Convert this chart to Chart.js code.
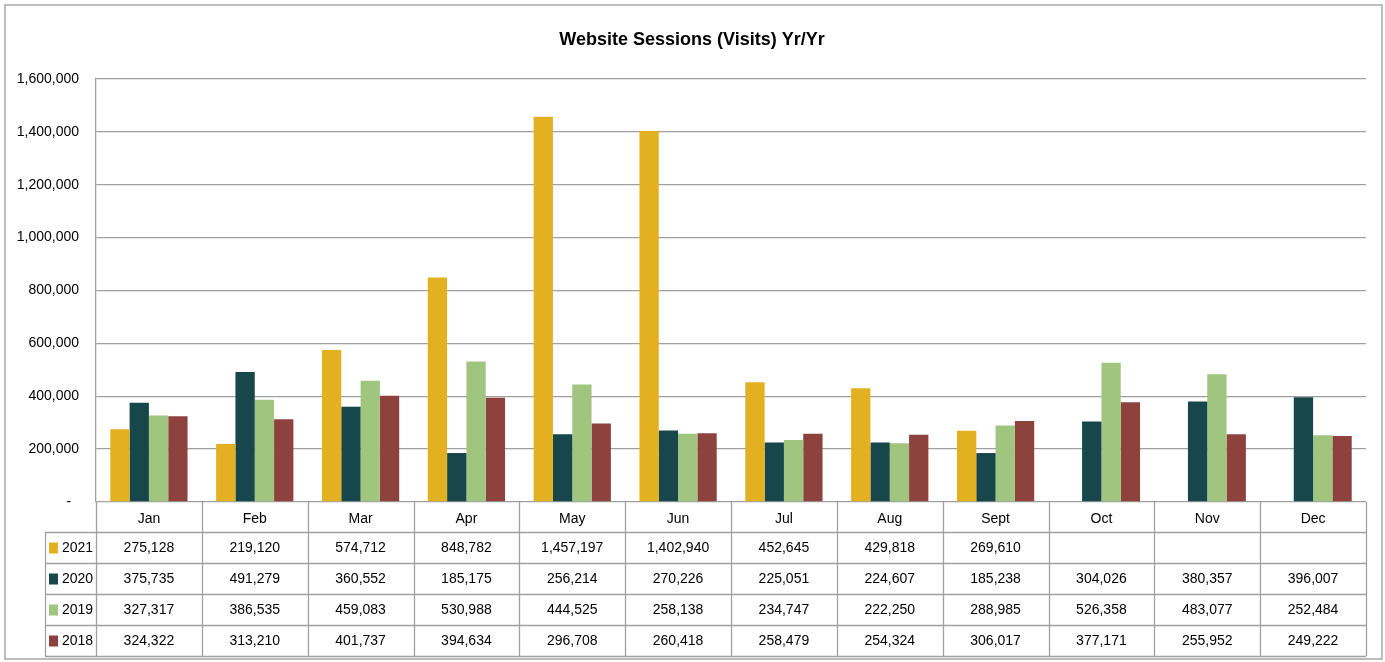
<!DOCTYPE html>
<html>
<head>
<meta charset="utf-8">
<script src="https://cdn.jsdelivr.net/npm/chart.js@4.4.1/dist/chart.umd.min.js"></script>
<style>
  html, body { margin: 0; padding: 0; background: #fff; }
  canvas { display: block; }
</style>
</head>
<body>
<canvas id="chart" width="1385" height="662"></canvas>
<script>
const months = ['Jan', 'Feb', 'Mar', 'Apr', 'May', 'Jun', 'Jul', 'Aug', 'Sept', 'Oct', 'Nov', 'Dec'];
const years = ['2021', '2020', '2019', '2018'];
const sessions2021 = [275128, 219120, 574712, 848782, 1457197, 1402940, 452645, 429818, 269610, null, null, null];
const sessions2020 = [375735, 491279, 360552, 185175, 256214, 270226, 225051, 224607, 185238, 304026, 380357, 396007];
const sessions2019 = [327317, 386535, 459083, 530988, 444525, 258138, 234747, 222250, 288985, 526358, 483077, 252484];
const sessions2018 = [324322, 313210, 401737, 394634, 296708, 260418, 258479, 254324, 306017, 377171, 255952, 249222];
const colors = ['#E3B022', '#17474A', '#A0C57F', '#8E423E'];

const FONT = "'Liberation Sans', Arial, sans-serif";
const GRID = '#a0a0a0';

function fmt(v) {
    return v === null ? '' : v.toLocaleString('en-US');
}

// Marco exterior, título y tabla de datos bajo el eje
const tablePlugin = {
    id: 'dataTable',
    afterDraw(chart) {
        const ctx = chart.ctx;
        const x = chart.scales.x;
        const area = chart.chartArea;
        const colW = (area.right - area.left) / months.length;
        const headerTop = area.bottom;
        const headerBottom = 532;
        const rowH = 31;
        const tableLeft = 45;
        const series = [sessions2021, sessions2020, sessions2019, sessions2018];

        ctx.save();
        // marco
        ctx.strokeStyle = '#a8a8a8';
        ctx.lineWidth = 1.5;
        ctx.strokeRect(5, 5, 1377, 654);

        // título
        ctx.fillStyle = '#000';
        ctx.font = "bold 18px " + FONT;
        ctx.textAlign = 'center';
        ctx.textBaseline = 'middle';
        ctx.fillText('Website Sessions (Visits) Yr/Yr', 692, 40);

        ctx.strokeStyle = GRID;
        ctx.lineWidth = 1.3;
        ctx.beginPath();
        for (let i = 0; i <= months.length; i++) {
            const cx = Math.round(area.left + i * colW) + 0.5;
            ctx.moveTo(cx, headerTop);
            ctx.lineTo(cx, headerBottom + rowH * years.length);
        }
        for (let r = 0; r <= years.length; r++) {
            const cy = headerBottom + r * rowH + 0.5;
            ctx.moveTo(tableLeft, cy);
            ctx.lineTo(area.right, cy);
        }
        ctx.moveTo(tableLeft + 0.5, headerBottom);
        ctx.lineTo(tableLeft + 0.5, headerBottom + rowH * years.length);
        ctx.stroke();

        ctx.font = "14px " + FONT;
        ctx.fillStyle = '#000';
        ctx.textAlign = 'center';
        months.forEach((m, i) => {
            ctx.fillText(m, x.getPixelForValue(i), (headerTop + headerBottom) / 2 + 2);
        });

        years.forEach((y, r) => {
            const cy = headerBottom + r * rowH + rowH / 2 + 1;
            ctx.fillStyle = colors[r];
            ctx.fillRect(49, cy - 6, 9, 11);
            ctx.fillStyle = '#000';
            ctx.textAlign = 'left';
            ctx.fillText(y, 62, cy);
            ctx.textAlign = 'center';
            series[r].forEach((v, i) => {
                ctx.fillText(fmt(v), x.getPixelForValue(i), cy);
            });
        });
        ctx.restore();
    }
};

new Chart(document.getElementById('chart'), {
    type: 'bar',
    data: {
        labels: months,
        datasets: [
            { label: years[0], data: sessions2021, backgroundColor: colors[0] },
            { label: years[1], data: sessions2020, backgroundColor: colors[1] },
            { label: years[2], data: sessions2019, backgroundColor: colors[2] },
            { label: years[3], data: sessions2018, backgroundColor: colors[3] }
        ]
    },
    options: {
        responsive: false,
        animation: false,
        layout: { padding: { top: 79, right: 19, bottom: 160, left: 0 } },
        datasets: {
            bar: { categoryPercentage: 0.73, barPercentage: 1.0, borderWidth: 0 }
        },
        plugins: {
            legend: { display: false },
            title: { display: false },
            tooltip: { enabled: false }
        },
        scales: {
            x: {
                display: false
            },
            y: {
                min: 0,
                max: 1600000,
                afterFit(scale) { scale.width = 96; },
                ticks: {
                    stepSize: 200000,
                    padding: 17,
                    color: '#000',
                    font: { family: FONT, size: 14 },
                    callback: v => v === 0 ? '-  ' : v.toLocaleString('en-US')
                },
                grid: { color: GRID, lineWidth: 1.3, drawTicks: false },
                border: { display: true, color: GRID, width: 1.3 }
            }
        }
    },
    plugins: [tablePlugin]
});
</script>
</body>
</html>
